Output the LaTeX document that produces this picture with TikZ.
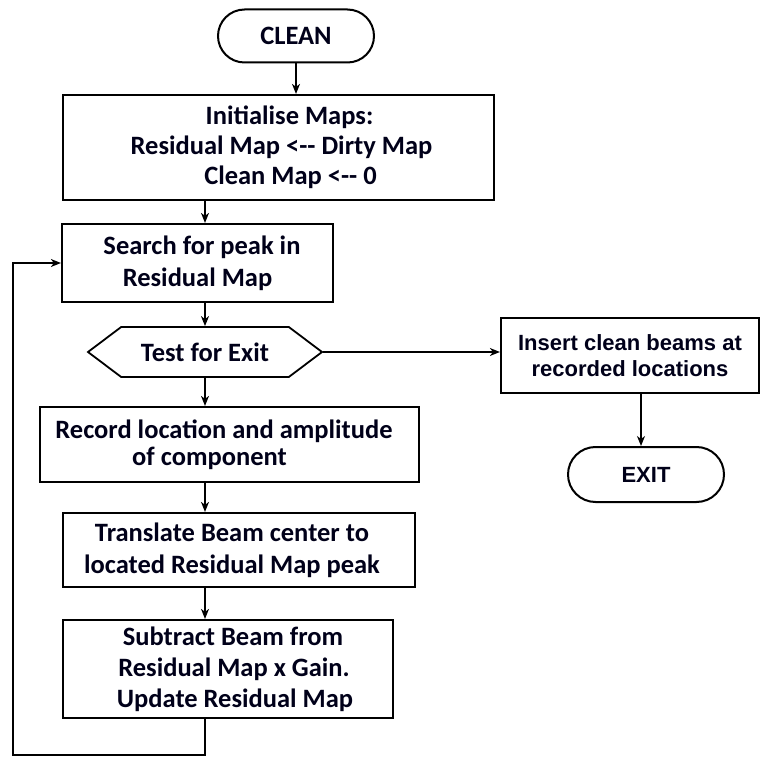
\documentclass[tikz,border=0pt]{standalone}
\usepackage{fontspec}
\setmainfont{Carlito}
\newfontfamily\arialfont{Liberation Sans}
\usetikzlibrary{shapes.misc,shapes.symbols,arrows.meta}
\begin{document}
\begin{tikzpicture}[x=1pt,y=-1pt,
  every node/.style={font=\bfseries\fontsize{26.5}{32}\selectfont, text=black!90!blue, align=center, inner sep=0pt},
  procbox/.style={draw, line width=2.2pt, rectangle},
  termbox/.style={draw, line width=2pt, rounded rectangle},
  hexbox/.style={draw, line width=1.8pt, signal, signal to=east and west, signal pointer angle=74},
  arialtext/.style={font=\arialfont\bfseries\fontsize{22}{26}\selectfont},
  conn/.style={line width=1.5pt, -{Stealth[length=10pt,width=8pt,inset=3pt]}}]
\useasboundingbox (0,0) rectangle (763,759);
\node[termbox, minimum width=156, minimum height=53] (clean) at (296,36) {CLEAN};
\node[procbox, minimum width=431, minimum height=105, font=\bfseries\fontsize{26.5}{30}\selectfont] (init) at (278.5,147.5)
  {\hspace*{22pt}Initialise Maps:\\\hspace*{6pt}Residual Map <-{}- Dirty Map\\\hspace*{24pt}Clean Map <-{}- 0};
\node[procbox, minimum width=271, minimum height=78] (search) at (197.5,263)
  {\hspace*{9pt}Search for peak in\\Residual Map};
\node[hexbox, minimum width=234, minimum height=50] (test) at (205,352) {Test for Exit};
\node[procbox, minimum width=258, minimum height=75, arialtext] (insert) at (630,355.5)
  {Insert clean beams at\\recorded locations};
\node[termbox, minimum width=156, minimum height=55, arialtext] (exit) at (646,474.5) {EXIT};
\node[procbox, minimum width=379, minimum height=75, font=\bfseries\fontsize{26.5}{27}\selectfont] (record) at (229.5,444.5)
  {Record location and amplitude\hspace*{11pt}\\of component\hspace*{40pt}};
\node[procbox, minimum width=352, minimum height=74] (translate) at (239,550)
  {Translate Beam center to\hspace*{14pt}\\located Residual Map peak\hspace*{14pt}};
\node[procbox, minimum width=330, minimum height=98, font=\bfseries\fontsize{26.5}{31}\selectfont] (subtract) at (228,669)
  {\hspace*{10pt}Subtract Beam from\\\hspace*{12pt}Residual Map x Gain.\\\hspace*{14pt}Update Residual Map};
\coordinate (loopbl) at (13,755);
\draw[conn] (clean.south) -- (clean.south |- init.north);
\draw[conn] (init.south -| test.north) -- (search.north -| test.north);
\draw[conn] (search.south -| test.north) -- (test.north);
\draw[conn] (test.east) -- (insert.west |- test.east);
\draw[conn] (insert.south -| 641,0) -- (exit.north -| 641,0);
\draw[conn] (test.south) -- (record.north -| test.south);
\draw[conn] (record.south -| test.south) -- (translate.north -| test.south);
\draw[conn] (translate.south -| test.south) -- (subtract.north -| test.south);
\draw[conn] (subtract.south -| test.south) |- (loopbl) |- (search.west);
\end{tikzpicture}
\end{document}
